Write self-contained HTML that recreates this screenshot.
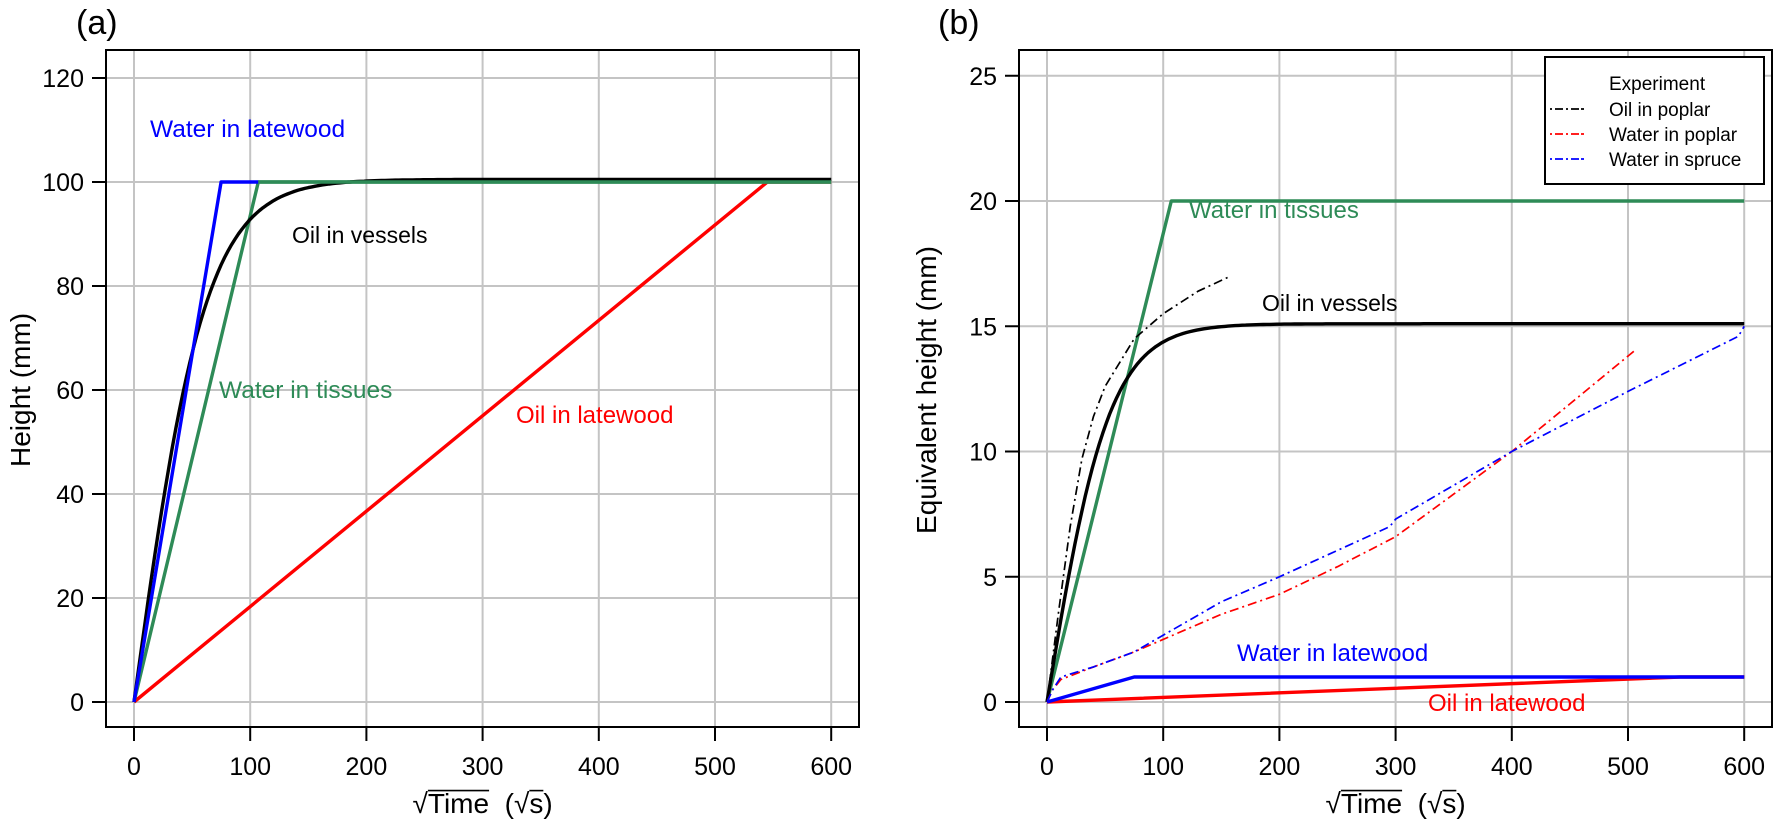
<!DOCTYPE html>
<html><head><meta charset="utf-8"><style>
html,body{margin:0;padding:0;background:#fff;}
svg{display:block;font-family:"Liberation Sans",sans-serif;}
</style></head><body>
<svg id="s" width="1773" height="824" viewBox="0 0 1773 824" xmlns="http://www.w3.org/2000/svg">
<text x="76" y="34" font-size="34">(a)</text>
<text x="938" y="34" font-size="34">(b)</text>
</svg>
<script>
const S=document.getElementById('s');
function el(t,a,txt){const e=document.createElementNS('http://www.w3.org/2000/svg',t);for(const k in a)e.setAttribute(k,a[k]);if(txt!==undefined)e.textContent=txt;S.appendChild(e);return e;}
function sqrtLabel(cx,y,fs){
 const parts=[['\u221A',0],['Time',1],['\u00A0\u00A0(',0],['\u221A',0],['s',1],[')',0]];
 const els=[];let w=0;
 parts.forEach(p=>{const e=el('text',{x:0,y:y,'font-size':fs},p[0]);const l=e.getComputedTextLength();els.push([e,l,p[1]]);w+=l;});
 let x=cx-w/2;
 els.forEach(q=>{q[0].setAttribute('x',x);if(q[2])el('line',{x1:x,x2:x+q[1],y1:y-fs*0.8,y2:y-fs*0.8,stroke:'#000','stroke-width':1.6});x+=q[1];});
}
function panel(p){
 const X=v=>p.x0+v*1.162, Y=v=>702-v*p.ky;
 for(let v=0;v<=600;v+=100) el('line',{x1:X(v),x2:X(v),y1:p.top,y2:727,stroke:'#c4c4c4','stroke-width':2});
 p.yt.forEach(v=>el('line',{x1:p.L,x2:p.R,y1:Y(v),y2:Y(v),stroke:'#c4c4c4','stroke-width':2}));
 p.series.forEach(s=>{
  const d=s.pts.map((q,i)=>(i?'L':'M')+X(q[0]).toFixed(1)+','+Y(q[1]).toFixed(1)).join('');
  el('path',{d:d,fill:'none',stroke:s.c,'stroke-width':s.w||3.4,'stroke-dasharray':s.dash||'none','stroke-linejoin':'round'});
 });
 el('rect',{x:p.L,y:p.top,width:p.R-p.L,height:727-p.top,fill:'none',stroke:'#000','stroke-width':2});
 for(let v=0;v<=600;v+=100){el('line',{x1:X(v),x2:X(v),y1:727,y2:741,stroke:'#000','stroke-width':2});
  el('text',{x:X(v),y:775,'font-size':25,'text-anchor':'middle'},String(v));}
 p.yt.forEach(v=>{el('line',{x1:p.L-14,x2:p.L,y1:Y(v),y2:Y(v),stroke:'#000','stroke-width':2});
  el('text',{x:p.L-22,y:Y(v)+9,'font-size':25,'text-anchor':'end'},String(v));});
 const cx=(X(0)+X(600))/2;
 sqrtLabel(cx,813,28);
 el('text',{x:p.yl,y:390,'font-size':28,'text-anchor':'middle',transform:`rotate(-90 ${p.yl} 390)`},p.ylab);
 p.labels.forEach(l=>el('text',{x:l[0],y:l[1],'font-size':l[4]||24,fill:l[3]},l[2]));
}
function tc(A,k){const a=[];for(let x=0;x<=600;x+=3)a.push([x,A*Math.tanh(x/k)]);return a;}
panel({x0:134,L:106,R:859,top:50,ky:5.2,yt:[0,20,40,60,80,100,120],yl:30,ylab:'Height (mm)',
 series:[
  {c:'#ff0000',pts:[[0,0],[545,100],[600,100]]},
  {c:'#2e8b57',pts:[[0,0],[107,100],[600,100]]},
  {c:'#000',pts:tc(100.5,62)},
  {c:'#0000ff',pts:[[0,0],[75,100],[107,100]]},
  {c:'#2e8b57',pts:[[107,100],[600,100]]}
 ],
 labels:[[150,137,'Water in latewood','#0000ff',24.5],[292,243,'Oil in vessels','#000',23],[219,398,'Water in tissues','#2e8b57',24.5],[516,423,'Oil in latewood','#ff0000',24]]
});
panel({x0:1047,L:1019,R:1772,top:50,ky:25.05,yt:[0,5,10,15,20,25],yl:936,ylab:'Equivalent height (mm)',
 series:[
  {c:'#2e8b57',pts:[[0,0],[107,20],[600,20]]},
  {c:'#000',pts:tc(15.1,54)},
  {c:'#ff0000',pts:[[0,0],[545,1],[600,1]]},
  {c:'#0000ff',pts:[[0,0],[75,1],[600,1]]},
  {c:'#000',w:1.7,dash:'9 4 2 4',pts:[[0,0],[5,1.8],[10,3.6],[20,7],[30,9.7],[40,11.4],[50,12.6],[75,14.5],[100,15.5],[130,16.4],[158,17]]},
  {c:'#ff0000',w:1.7,dash:'9 4 2 4',pts:[[0,0],[5,0.5],[12,0.9],[40,1.4],[75,2],[150,3.5],[200,4.3],[250,5.4],[300,6.6],[350,8.3],[400,10],[450,11.9],[505,14]]},
  {c:'#0000ff',w:1.7,dash:'9 4 2 4',pts:[[0,0],[5,0.5],[12,1],[40,1.4],[75,2],[150,4],[200,5],[295,7],[300,7.3],[400,10],[500,12.4],[595,14.6],[600,15]]}
 ],
 labels:[[1189,218,'Water in tissues','#2e8b57'],[1262,311,'Oil in vessels','#000',23],[1237,661,'Water in latewood','#0000ff'],[1428,711,'Oil in latewood','#ff0000']]
});
el('rect',{x:1545,y:57,width:219,height:127,fill:'#fff',stroke:'#000','stroke-width':2});
el('text',{x:1609,y:90,'font-size':19},'Experiment');
[['#000','Oil in poplar',116],['#ff0000','Water in poplar',141],['#0000ff','Water in spruce',166]].forEach(r=>{
 el('line',{x1:1550,x2:1585,y1:r[2]-7,y2:r[2]-7,stroke:r[0],'stroke-width':1.7,'stroke-dasharray':'2 3 8 3 2 3 8'});
 el('text',{x:1609,y:r[2],'font-size':19},r[1]);
});
</script>
</body></html>
